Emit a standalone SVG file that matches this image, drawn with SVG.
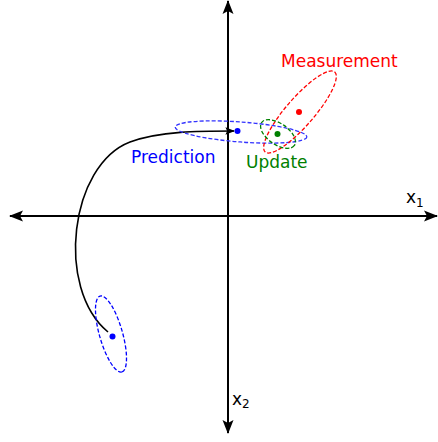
<svg xmlns="http://www.w3.org/2000/svg" width="438" height="442" viewBox="0 0 438 442">
<style>
text{font-family:"DejaVu Sans",sans-serif;font-size:17px}
.ax{stroke:#000;stroke-width:2;fill:none}
.ell{fill:none;stroke-width:1.3;stroke-dasharray:4,2}
</style>
<defs>
<marker id="ah" viewBox="-14 -6 16 12" markerWidth="16" markerHeight="12" refX="0" refY="0" orient="auto" markerUnits="userSpaceOnUse">
<path d="M1,0 L-13,-5.5 L-10,0 L-13,5.5 z" fill="#000"/>
</marker>
<marker id="ah2" viewBox="-12 -5 14 10" markerWidth="12" markerHeight="9" refX="0" refY="0" orient="auto" markerUnits="userSpaceOnUse">
<path d="M1,0 L-10,-4.5 L-8,0 L-10,4.5 z" fill="#000"/>
</marker>
</defs>
<g id="connectors">
<line class="ax" x1="228" y1="216" x2="437" y2="216" marker-end="url(#ah)"/>
<line class="ax" x1="228" y1="216" x2="10" y2="216" marker-end="url(#ah)"/>
<line class="ax" x1="228" y1="216" x2="228" y2="1" marker-end="url(#ah)"/>
<line class="ax" x1="228" y1="216" x2="228" y2="433" marker-end="url(#ah)"/>
<path d="M108,332 C55,288 70,165 130,142 C160,131 200,131 234,131" fill="none" stroke="#000" stroke-width="1.6" marker-end="url(#ah2)"/>
</g>
<g id="start">
<ellipse class="ell" cx="111" cy="334" rx="39.5" ry="11.5" transform="rotate(74 111 334)" stroke="#0000ff"/>
<circle cx="112.5" cy="336.5" r="3" fill="#0000ff"/>
</g>
<g id="prediction">
<ellipse class="ell" cx="241" cy="132" rx="66" ry="10" transform="rotate(4.3 241 132)" stroke="#3333ff" stroke-dasharray="6,3"/>
<circle cx="237.5" cy="131" r="3" fill="#0000ff"/>
<text x="131" y="163" fill="#0000ff">Prediction</text>
</g>
<g id="measurement">
<ellipse class="ell" cx="300" cy="112" rx="53" ry="14" transform="rotate(-49 300 112)" stroke="#ff0000"/>
<circle cx="299" cy="112" r="3" fill="#ff0000"/>
<text x="281" y="67" fill="#ff0000">Measurement</text>
</g>
<g id="update">
<ellipse class="ell" cx="278" cy="134" rx="20" ry="10.5" transform="rotate(35 278 134)" stroke="#008000" stroke-width="1.5"/>
<circle cx="277.5" cy="134" r="3" fill="#008000"/>
<text x="246" y="168" fill="#008000">Update</text>
</g>
<g id="x1">
<text x="406" y="203" font-size="19">x<tspan font-size="12" dy="4">1</tspan></text>
</g>
<g id="x2">
<text x="232" y="405" font-size="19">x<tspan font-size="12" dy="3">2</tspan></text>
</g>
</svg>
